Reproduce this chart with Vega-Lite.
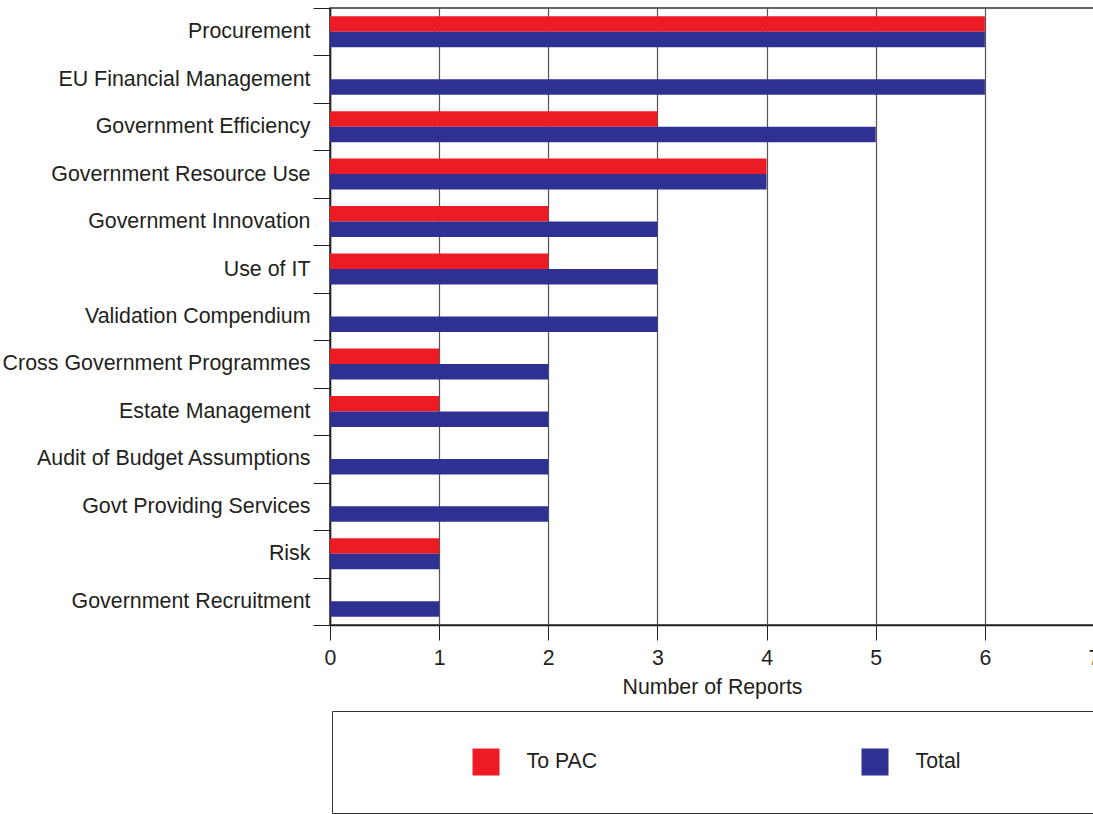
{
  "$schema": "https://vega.github.io/schema/vega-lite/v6.json",
  "autosize": {"type": "none"},
  "padding": {"left": 330, "top": 8, "right": -1, "bottom": 189},
  "width": 764,
  "height": 617,
  "config": {
    "font": "Liberation Sans",
    "view": {"stroke": "#333333", "strokeWidth": 1.5}
  },
  "data": {
    "values": [
      {"topic": "Procurement", "series": "To PAC", "value": 6},
      {"topic": "Procurement", "series": "Total", "value": 6},
      {"topic": "EU Financial Management", "series": "To PAC", "value": 0},
      {"topic": "EU Financial Management", "series": "Total", "value": 6},
      {"topic": "Government Efficiency", "series": "To PAC", "value": 3},
      {"topic": "Government Efficiency", "series": "Total", "value": 5},
      {"topic": "Government Resource Use", "series": "To PAC", "value": 4},
      {"topic": "Government Resource Use", "series": "Total", "value": 4},
      {"topic": "Government Innovation", "series": "To PAC", "value": 2},
      {"topic": "Government Innovation", "series": "Total", "value": 3},
      {"topic": "Use of IT", "series": "To PAC", "value": 2},
      {"topic": "Use of IT", "series": "Total", "value": 3},
      {"topic": "Validation Compendium", "series": "To PAC", "value": 0},
      {"topic": "Validation Compendium", "series": "Total", "value": 3},
      {"topic": "Cross Government Programmes", "series": "To PAC", "value": 1},
      {"topic": "Cross Government Programmes", "series": "Total", "value": 2},
      {"topic": "Estate Management", "series": "To PAC", "value": 1},
      {"topic": "Estate Management", "series": "Total", "value": 2},
      {"topic": "Audit of Budget Assumptions", "series": "To PAC", "value": 0},
      {"topic": "Audit of Budget Assumptions", "series": "Total", "value": 2},
      {"topic": "Govt Providing Services", "series": "To PAC", "value": 0},
      {"topic": "Govt Providing Services", "series": "Total", "value": 2},
      {"topic": "Risk", "series": "To PAC", "value": 1},
      {"topic": "Risk", "series": "Total", "value": 1},
      {"topic": "Government Recruitment", "series": "To PAC", "value": 0},
      {"topic": "Government Recruitment", "series": "Total", "value": 1}
    ]
  },
  "mark": {"type": "bar", "strokeWidth": 0},
  "encoding": {
    "y": {
      "field": "topic",
      "type": "nominal",
      "sort": null,
      "scale": {"paddingInner": 0, "paddingOuter": 0},
      "axis": {
        "title": null,
        "tickBand": "extent",
        "tickSize": 17,
        "tickColor": "#231f20",
        "domainColor": "#231f20",
        "domainWidth": 1.5,
        "labelPadding": 3,
        "labelFontSize": 21.4,
        "labelColor": "#231f20",
        "labelLimit": 400,
        "grid": false
      }
    },
    "x": {
      "field": "value",
      "type": "quantitative",
      "scale": {"domain": [0, 7], "nice": false},
      "axis": {
        "title": "Number of Reports",
        "titleFontSize": 21.3,
        "titleFontWeight": "normal",
        "titleColor": "#231f20",
        "titlePadding": 8,
        "values": [0, 1, 2, 3, 4, 5, 6, 7],
        "tickSize": 15,
        "tickColor": "#231f20",
        "domainColor": "#231f20",
        "domainWidth": 1.5,
        "labelFontSize": 21.3,
        "labelColor": "#231f20",
        "labelPadding": 7,
        "labelFlush": false,
        "labelOverlap": false,
        "grid": true,
        "gridColor": "#555555",
        "gridOpacity": 1,
        "gridWidth": 1.2
      }
    },
    "yOffset": {
      "field": "series",
      "type": "nominal",
      "sort": ["To PAC", "Total"],
      "scale": {"paddingInner": 0, "paddingOuter": 0.531}
    },
    "color": {
      "field": "series",
      "type": "nominal",
      "sort": ["To PAC", "Total"],
      "scale": {"domain": ["To PAC", "Total"], "range": ["#ed1c24", "#2e3192"]},
      "legend": {
        "title": " ",
        "titleOrient": "right",
        "titlePadding": 100,
        "orient": "none",
        "legendX": 2,
        "legendY": 703,
        "direction": "horizontal",
        "symbolType": "square",
        "symbolSize": 729,
        "symbolStrokeWidth": 0,
        "symbolOpacity": 1,
        "symbolOffset": 103,
        "labelOffset": 27,
        "labelFontSize": 21.3,
        "labelColor": "#231f20",
        "columnPadding": 161,
        "padding": 37.5,
        "strokeColor": "#333333"
      }
    }
  }
}
